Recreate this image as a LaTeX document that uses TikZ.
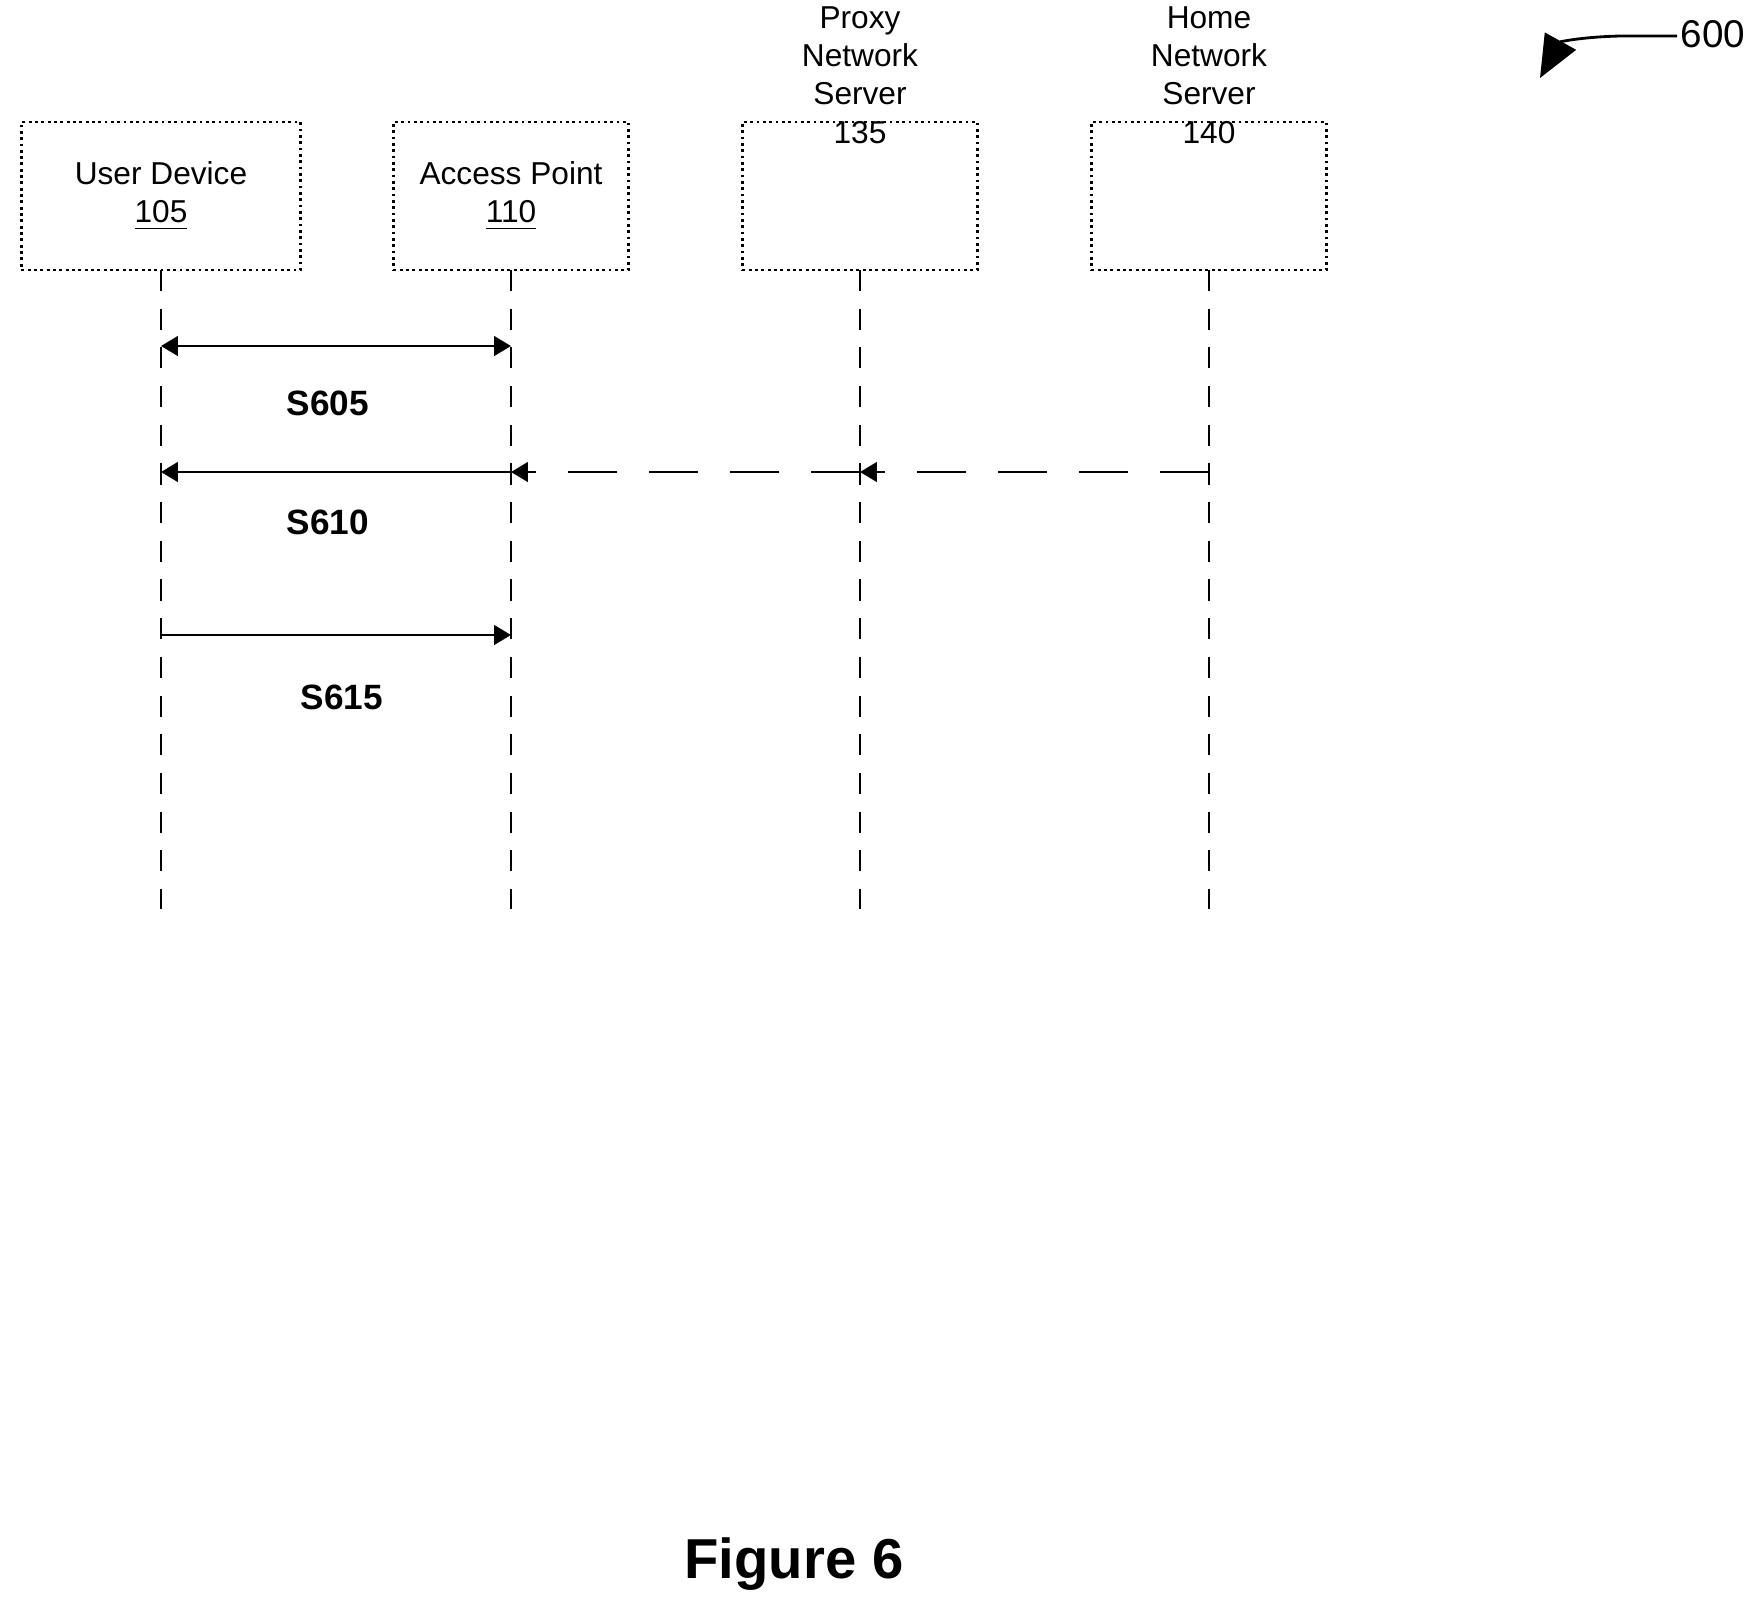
\documentclass[tikz,border=0pt]{standalone}
\usepackage{fontspec}
\setmainfont{Liberation Sans}
\usetikzlibrary{arrows.meta,positioning}
\tikzset {>=Triangle}
\tikzset{ent/.style={draw,densely dotted,thick,minimum width=2.35cm,minimum height=1.48cm,
    align=center,font=\fontsize{9}{10.9}\selectfont},
  tall/.style={inner ysep=0pt,text height=6pt,text depth=36pt},
  life/.style={dashed,thick,dash pattern=on 6pt off 5pt},
  lbl/.style={font=\bfseries\fontsize{10}{12}\selectfont}}
\newcommand*{\nr}[1]{\underline{#1}}
\begin{document}
\begin{tikzpicture}[x=0.01cm,y=-0.01cm]
\useasboundingbox (0,0) rectangle (1762,1605);
\node[ent,minimum width=2.79cm] (ud) at (161,196) {User Device\\\nr{105}};
\node[ent] (ap) at (511,196) {Access Point\\\nr{110}};
\node[ent,tall] (pn) at (860,196) {Proxy\\Network\\Server\\135};
\node[ent,tall] (hn) at (1209,196) {Home\\Network\\Server\\140};
\foreach \n/\x in {ud/161,ap/511,pn/860,hn/1209} {
  \coordinate (\n0) at (\x,270);
  \coordinate (\n1) at (\x,346);
  \coordinate (\n2) at (\x,472);
  \coordinate (\n3) at (\x,635);
  \coordinate (\n9) at (\x,909);
  \draw[life] (\n0) -- (\n9);
}
% S605
\draw[thick,<->] (ud1) -- (ap1);
\node[lbl] (s605) at (328,403) {S605};
% S610
\draw[thick,dashed,dash pattern=on 14pt off 9pt,->] (hn2) -- (pn2);
\draw[thick,dashed,dash pattern=on 14pt off 9pt,->] (pn2) -- (ap2);
\draw[thick,->] (ap2) -- (ud2);
\node[lbl] (s610) at (328,522) {S610};
% S615
\draw[thick,->] (ud3) -- (ap3);
\node[lbl] (s615) at (342,697) {S615};
\node[font=\bfseries\fontsize{16}{18}\selectfont] (fig) at (794,1564) {Figure 6};
\node[font=\fontsize{11}{12}\selectfont] (ref) at (1713,34) {600};
\coordinate (r1) at (1677,36);
\draw[thick,-{Triangle[length=12pt,width=10pt]}] (r1) -- (1620,36) .. controls (1580,37) and (1560,42) .. (1540,78);
\end{tikzpicture}
\end{document}
